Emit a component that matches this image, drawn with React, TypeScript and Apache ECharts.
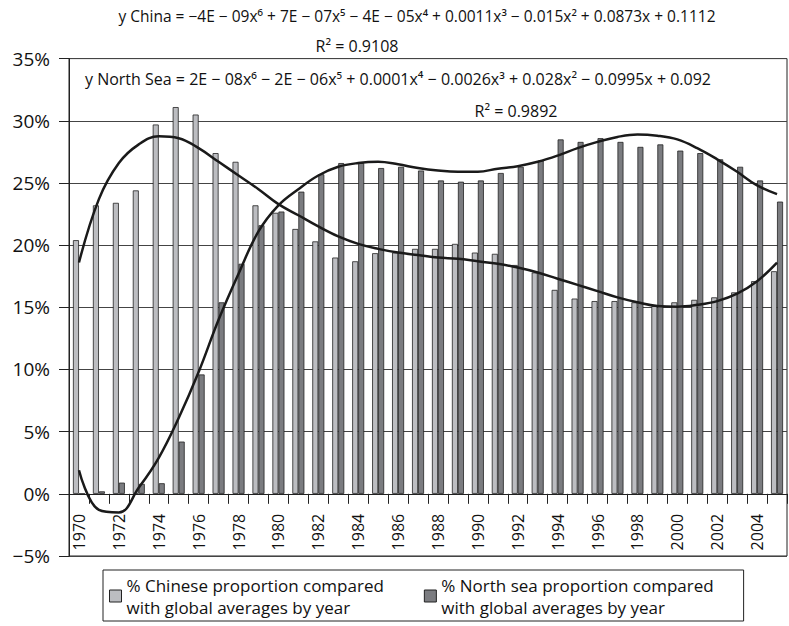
import React, { useEffect, useRef } from "react";
import * as echarts from "echarts";

const years = [
  "1970", "1971", "1972", "1973", "1974", "1975", "1976", "1977", "1978", "1979",
  "1980", "1981", "1982", "1983", "1984", "1985", "1986", "1987", "1988", "1989",
  "1990", "1991", "1992", "1993", "1994", "1995", "1996", "1997", "1998", "1999",
  "2000", "2001", "2002", "2003", "2004", "2005",
];

// % share compared with global averages (bars)
const chinaShare = [
  20.4, 23.2, 23.4, 24.4, 29.7, 31.1, 30.5, 27.4, 26.7, 23.2,
  22.6, 21.3, 20.3, 19.0, 18.7, 19.35, 19.4, 19.7, 19.7, 20.1,
  19.4, 19.3, 18.4, 17.8, 16.4, 15.7, 15.5, 15.5, 15.4, 15.1,
  15.4, 15.6, 15.8, 16.2, 17.1, 17.9,
];
const northSeaShare = [
  0, 0.2, 0.9, 0.8, 0.85, 4.2, 9.6, 15.4, 18.5, 21.6,
  22.7, 24.3, 25.7, 26.6, 26.6, 26.2, 26.3, 26.0, 25.2, 25.1,
  25.2, 25.8, 26.3, 26.8, 28.5, 28.3, 28.6, 28.3, 27.9, 28.1,
  27.6, 27.4, 26.9, 26.3, 25.2, 23.5,
];

// polynomial trend lines
const chinaTrend = [
  18.6, 23.7, 26.6, 28.1, 28.75, 28.6, 27.8, 26.7, 25.6, 24.5,
  23.3, 22.4, 21.5, 20.7, 20.1, 19.7, 19.4, 19.2, 19.0, 18.9,
  18.7, 18.5, 18.2, 17.8, 17.3, 16.8, 16.3, 15.8, 15.4, 15.1,
  15.05, 15.2, 15.5, 16.1, 17.1, 18.6,
];
const northSeaTrend = [
  1.9, -1.3, -1.5, 0.5, 2.9, 6.1, 9.8, 14.0, 17.7, 21.1,
  23.2, 24.5, 25.6, 26.3, 26.6, 26.7, 26.5, 26.2, 26.0, 25.9,
  25.9, 26.15, 26.35, 26.7, 27.2, 27.8, 28.3, 28.7, 28.9, 28.8,
  28.5, 27.8, 26.9, 25.9, 24.8, 24.1,
];

const yMin = -5;
const yMax = 35;
const yStep = 5;

const chinaName = "% Chinese proportion compared\nwith global averages by year";
const northName = "% North sea proportion compared\nwith global averages by year";

const chinaEq =
  "y China = \u22124E \u2212 09x\u2076 + 7E \u2212 07x\u2075 \u2212 4E \u2212 05x\u2074 + 0.0011x\u00b3 \u2212 0.015x\u00b2 + 0.0873x + 0.1112";
const chinaR2 = "R\u00b2 = 0.9108";
const northEq =
  "y North Sea = 2E \u2212 08x\u2076 \u2212 2E \u2212 06x\u2075 + 0.0001x\u2074 \u2212 0.0026x\u00b3 + 0.028x\u00b2 \u2212 0.0995x + 0.092";
const northR2 = "R\u00b2 = 0.9892";

const FONT = '"Open Sans", "Noto Sans", sans-serif';

const GRID_TOP = 58.6;
const GRID_BOTTOM = 70;
const PLOT_H = 626 - GRID_TOP - GRID_BOTTOM;

export default function App() {
  const ref = useRef<HTMLDivElement>(null);

  useEffect(() => {
    if (!ref.current) return;
    const chart = echarts.init(ref.current, null, { renderer: "svg" });
    const eqFont = `16px ${FONT}`;
    // shift the category axis up from the grid bottom (-5%) to the 0% line
    const zeroOffset = -(PLOT_H * (0 - yMin)) / (yMax - yMin);
    chart.setOption({
      animation: false,
      backgroundColor: "#ffffff",
      textStyle: { fontFamily: FONT },
      grid: {
        left: 69,
        right: 2,
        top: GRID_TOP,
        bottom: GRID_BOTTOM,
        show: true,
        borderColor: "#222",
        borderWidth: 1,
        containLabel: false,
      },
      legend: {
        data: [chinaName, northName],
        left: 103,
        top: 570,
        orient: "horizontal",
        icon: "rect",
        itemWidth: 12,
        itemHeight: 12,
        itemGap: 40,
        itemStyle: { borderColor: "#222", borderWidth: 1 },
        padding: [4, 30, 3, 6],
        borderColor: "#222",
        borderWidth: 1,
        textStyle: { fontSize: 17, color: "#111", lineHeight: 22, fontFamily: FONT },
      },
      xAxis: {
        type: "category",
        data: years,
        boundaryGap: true,
        position: "bottom",
        offset: zeroOffset,
        axisLine: { onZero: false, lineStyle: { color: "#222", width: 1 } },
        axisTick: { show: true, interval: 0, length: 10, lineStyle: { color: "#222" } },
        axisLabel: {
          interval: 1,
          rotate: 90,
          margin: 20,
          fontSize: 16,
          color: "#111",
          fontFamily: FONT,
        },
        splitLine: { show: false },
      },
      yAxis: {
        type: "value",
        min: yMin,
        max: yMax,
        interval: yStep,
        axisLine: { show: true, lineStyle: { color: "#222", width: 1 } },
        axisTick: { show: true, length: 10, lineStyle: { color: "#222" } },
        axisLabel: {
          margin: 19,
          fontSize: 19,
          color: "#111",
          fontFamily: FONT,
          formatter: (v: number) => (v < 0 ? "\u2212" + Math.abs(v) + "%" : v + "%"),
        },
        splitLine: { show: true, lineStyle: { color: "#444", width: 1 } },
      },
      series: [
        {
          name: chinaName,
          type: "bar",
          data: chinaShare,
          barWidth: 6,
          barGap: "0%",
          itemStyle: { color: "#bcbdc1", borderColor: "#222", borderWidth: 0.8 },
          z: 2,
        },
        {
          name: northName,
          type: "bar",
          data: northSeaShare,
          barWidth: 6,
          barGap: "0%",
          itemStyle: { color: "#7b7c80", borderColor: "#222", borderWidth: 0.8 },
          z: 2,
        },
        {
          name: "China trend",
          type: "line",
          data: chinaTrend,
          smooth: 0.4,
          symbol: "none",
          lineStyle: { color: "#1a1a1a", width: 2.5 },
          z: 5,
        },
        {
          name: "North Sea trend",
          type: "line",
          data: northSeaTrend,
          smooth: 0.4,
          symbol: "none",
          lineStyle: { color: "#1a1a1a", width: 2.5 },
          z: 5,
        },
      ],
      graphic: [
        {
          type: "text",
          style: { text: chinaEq, x: 417, y: 16, textAlign: "center", textVerticalAlign: "middle", font: `15.5px ${FONT}`, fill: "#111" },
        },
        {
          type: "text",
          style: { text: chinaR2, x: 357, y: 46, textAlign: "center", textVerticalAlign: "middle", font: eqFont, fill: "#111" },
        },
        {
          type: "text",
          style: { text: northEq, x: 398, y: 79, textAlign: "center", textVerticalAlign: "middle", font: eqFont, fill: "#111" },
        },
        {
          type: "text",
          style: { text: northR2, x: 516, y: 111, textAlign: "center", textVerticalAlign: "middle", font: eqFont, fill: "#111" },
        },
      ],
    });
    return () => chart.dispose();
  }, []);

  return (
    <div
      ref={ref}
      style={{ position: "fixed", left: 0, top: 0, width: 789, height: 626 }}
    />
  );
}
